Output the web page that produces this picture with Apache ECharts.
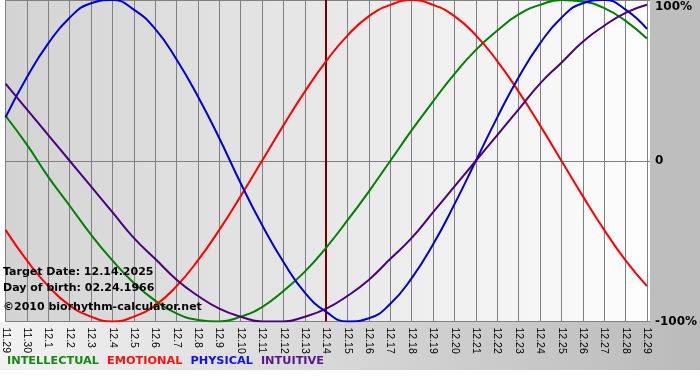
<!DOCTYPE html>
<html>
<head>
<meta charset="utf-8">
<script src="https://cdn.jsdelivr.net/npm/echarts@6/dist/echarts.min.js"></script>
<style>
html,body{margin:0;padding:0;background:#fff;}
#chart{width:700px;height:380px;}
</style>
</head>
<body>
<div id="chart"></div>
<script>
// Day labels (month.day)
const categories = ['11.29','11.30','12.1','12.2','12.3','12.4','12.5','12.6','12.7','12.8','12.9','12.10','12.11','12.12','12.13','12.14','12.15','12.16','12.17','12.18','12.19','12.20','12.21','12.22','12.23','12.24','12.25','12.26','12.27','12.28','12.29'];
// Values as fractions of 100%
const intellectual = [0.28,0.10,-0.10,-0.28,-0.46,-0.62,-0.76,-0.87,-0.95,-0.99,-1.00,-0.97,-0.91,-0.81,-0.69,-0.54,-0.37,-0.19,0,0.19,0.37,0.54,0.69,0.81,0.91,0.97,1.00,0.99,0.95,0.87,0.76];
const emotional = [-0.43,-0.62,-0.78,-0.90,-0.97,-1.00,-0.97,-0.90,-0.78,-0.62,-0.43,-0.22,0,0.22,0.43,0.62,0.78,0.90,0.97,1.00,0.97,0.90,0.78,0.62,0.43,0.22,0,-0.22,-0.43,-0.62,-0.78];
const physical = [0.27,0.52,0.73,0.89,0.98,1.00,0.94,0.82,0.63,0.40,0.14,-0.14,-0.40,-0.63,-0.82,-0.94,-1.00,-0.98,-0.89,-0.73,-0.52,-0.27,0,0.27,0.52,0.73,0.89,0.98,1.00,0.94,0.82];
const intuitive = [0.48,0.32,0.16,0,-0.16,-0.32,-0.48,-0.61,-0.74,-0.84,-0.92,-0.97,-1.00,-1.00,-0.97,-0.92,-0.84,-0.74,-0.61,-0.48,-0.32,-0.16,0,0.16,0.32,0.48,0.61,0.74,0.84,0.92,0.97];
const targetDay = '12.14';
const yTicks = { '1': '100%', '0': '0', '-1': '-100%' };

const chart = echarts.init(document.getElementById('chart'), null, {renderer: 'canvas'});
const gridColor = '#808080';
const mk = (name, data, color) => ({
  name, type: 'line', data, smooth: 0.5, showSymbol: false, symbol: 'none',
  lineStyle: {color, width: 2}, itemStyle: {color}
});
const series = [
  mk('INTELLECTUAL', intellectual, '#008000'),
  mk('EMOTIONAL', emotional, '#ff0000'),
  mk('PHYSICAL', physical, '#0000d8'),
  mk('INTUITIVE', intuitive, '#4b0082')
];
series[0].markLine = {
  symbol: 'none', silent: true, animation: false, z: 1,
  label: {show: false},
  lineStyle: {color: '#7a0000', width: 2, type: 'solid'},
  data: [{xAxis: targetDay}]
};

chart.setOption({
  animation: false,
  backgroundColor: '#ffffff',
  graphic: [
    {type: 'rect', z: -10, shape: {x: 650, y: 0, width: 50, height: 322}, style: {fill: '#bebebe'}},
    {type: 'rect', z: -10, shape: {x: 0, y: 322, width: 700, height: 48},
      style: {fill: new echarts.graphic.LinearGradient(0, 0, 1, 0, [{offset: 0, color: '#f2f2f2'}, {offset: 1, color: '#bababa'}])}},
    {type: 'text', z: 100, style: {x: 3, y: 272, text: 'Target Date: 12.14.2025', font: 'bold 11px "DejaVu Sans"', fill: '#000', verticalAlign: 'middle'}},
    {type: 'text', z: 100, style: {x: 3, y: 288, text: 'Day of birth: 02.24.1966', font: 'bold 11px "DejaVu Sans"', fill: '#000', verticalAlign: 'middle'}},
    {type: 'text', z: 100, style: {x: 3, y: 307, text: '\u00a92010 biorhythm-calculator.net', font: 'bold 11px "DejaVu Sans"', fill: '#000', verticalAlign: 'middle'}}
  ],
  legend: {
    left: 2, top: 356, itemWidth: 0, itemHeight: 0, itemGap: 3, icon: 'rect', padding: 0,
    selectedMode: false,
    textStyle: {fontFamily: 'DejaVu Sans', fontWeight: 'bold', fontSize: 11.3},
    data: [
      {name: 'INTELLECTUAL', textStyle: {color: '#108a10'}},
      {name: 'EMOTIONAL', textStyle: {color: '#ff1010'}},
      {name: 'PHYSICAL', textStyle: {color: '#1010f0'}},
      {name: 'INTUITIVE', textStyle: {color: '#5a1490'}}
    ]
  },
  grid: {
    left: 0, right: 50, top: 0, bottom: 58.5, containLabel: false, show: true, borderWidth: 0,
    backgroundColor: new echarts.graphic.LinearGradient(0, 0, 1, 0, [{offset: 0, color: '#d3d3d3'}, {offset: 1, color: '#fdfdfd'}])
  },
  xAxis: {
    type: 'category', data: categories, boundaryGap: false,
    axisLine: {show: true, lineStyle: {color: gridColor, width: 1}},
    axisTick: {show: true, length: 3, interval: 0, lineStyle: {color: gridColor}},
    splitLine: {show: true, interval: 0, lineStyle: {color: gridColor, width: 1}},
    axisLabel: {interval: 0, rotate: -90, margin: 6, color: '#000', fontFamily: 'Liberation Sans', fontSize: 10.5}
  },
  yAxis: {
    type: 'value', position: 'right', min: -1, max: 1, interval: 1,
    axisLine: {show: false},
    axisTick: {show: true, length: 3, lineStyle: {color: gridColor}},
    splitLine: {show: true, lineStyle: {color: gridColor, width: 1}},
    axisLabel: {
      margin: 8, color: '#000', fontFamily: 'DejaVu Sans', fontWeight: 'bold', fontSize: 12,
      formatter: v => {
        const s = yTicks[String(v)];
        return v === 1 ? '{t|' + s + '}' : s;
      },
      rich: {t: {padding: [14, 0, 0, 0], fontFamily: 'DejaVu Sans', fontWeight: 'bold', fontSize: 12, color: '#000'}}
    }
  },
  series
});
</script>
</body>
</html>
